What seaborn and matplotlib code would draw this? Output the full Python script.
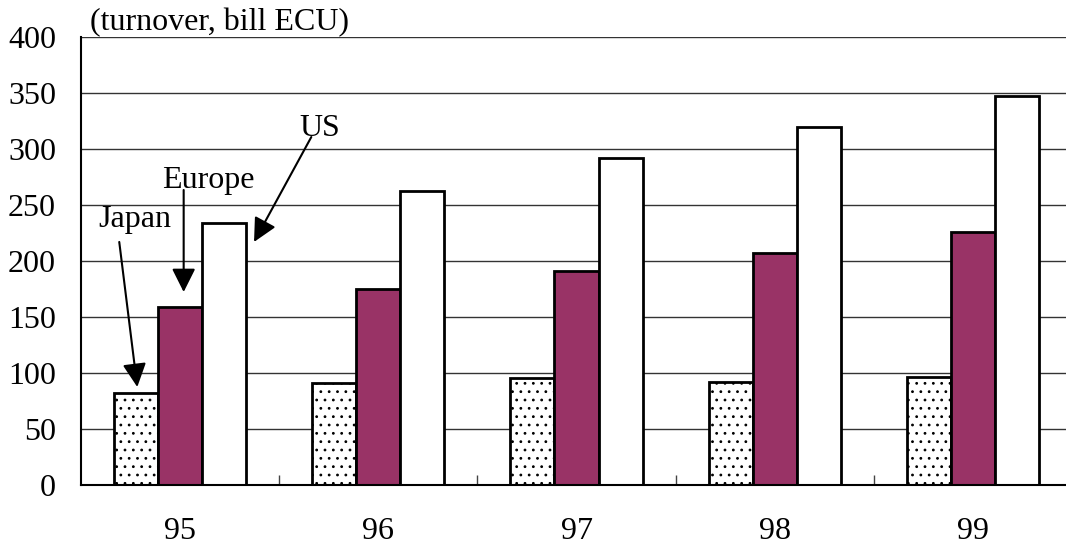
import matplotlib
matplotlib.use("Agg")
import matplotlib.pyplot as plt
from matplotlib.ticker import FixedLocator
import pandas as pd
import seaborn as sns

# Turnover by region, bill ECU
years = ["95", "96", "97", "98", "99"]
regions = ["Japan", "Europe", "US"]
japan = [82, 91, 95.5, 92, 96.5]
europe = [159, 175, 191, 207, 226]
us = [234, 262.5, 292, 320, 347.5]
y_ticks = [0, 50, 100, 150, 200, 250, 300, 350, 400]

df = pd.DataFrame({
    "year": years * 3,
    "region": ["Japan"] * 5 + ["Europe"] * 5 + ["US"] * 5,
    "value": japan + europe + us,
})

sns.set_theme(style="white")
plt.rcParams["font.family"] = ["Liberation Serif", "DejaVu Serif"]
plt.rcParams["text.color"] = "black"
plt.rcParams["xtick.color"] = "black"
plt.rcParams["ytick.color"] = "black"
plt.rcParams["hatch.color"] = "#3a3a3a"
plt.rcParams["hatch.linewidth"] = 0.8

FS = 23

fig = plt.figure(figsize=(10.66, 5.46), dpi=100)
ax = fig.add_axes([81 / 1066, 1 - 485 / 546, (1072 - 81) / 1066,
                   (485 - 37) / 546])

palette = {"Japan": "white", "Europe": "#993366", "US": "white"}
sns.barplot(data=df, x="year", y="value", hue="region", hue_order=regions,
            palette=palette, width=0.667, edgecolor="black", linewidth=2.0,
            saturation=1, dodge=True, ax=ax, legend=False)

# dotted fill for the Japan series
for patch in ax.containers[0]:
    patch.set_hatch("..")

ax.set_xlim(-0.5, 4.5)
ax.set_ylim(0, 400)
ax.set_yticks(y_ticks)
ax.yaxis.grid(True, color="#333333", linewidth=1.0)
ax.set_axisbelow(True)
ax.set_xlabel("")
ax.set_ylabel("")

for side in ["top", "right"]:
    ax.spines[side].set_visible(False)
for side in ["left", "bottom"]:
    ax.spines[side].set_color("black")
    ax.spines[side].set_linewidth(1.5)

ax.tick_params(axis="y", length=0, pad=18, labelsize=FS, labelcolor="black")
ax.tick_params(axis="x", which="major", length=0, pad=23, labelsize=FS,
               labelcolor="black")
ax.xaxis.set_minor_locator(FixedLocator([0.5, 1.5, 2.5, 3.5]))
ax.tick_params(axis="x", which="minor", direction="in", length=7, width=1,
               color="#444444", bottom=True)

ax.text(0.009, 1.0, "(turnover, bill ECU)", transform=ax.transAxes,
        ha="left", va="bottom", fontsize=FS, color="black")

# series labels with arrows pointing at the first group
arrow = dict(arrowstyle="-|>", color="black", lw=1.5, mutation_scale=36,
             shrinkA=0, shrinkB=0)
ax.text(0.703, 318.7, "US", ha="center", va="center", fontsize=FS,
        color="black")
ax.annotate("", xy=(0.373, 217), xytext=(0.662, 310.7), arrowprops=arrow)
ax.text(0.140, 272, "Europe", ha="center", va="center", fontsize=FS,
        color="black")
ax.annotate("", xy=(0.018, 172.3), xytext=(0.018, 263.4), arrowprops=arrow)
ax.text(-0.226, 237.5, "Japan", ha="center", va="center", fontsize=FS,
        color="black")
ax.annotate("", xy=(-0.216, 87.5), xytext=(-0.307, 217), arrowprops=arrow)

fig.savefig("out.png", dpi=100)
